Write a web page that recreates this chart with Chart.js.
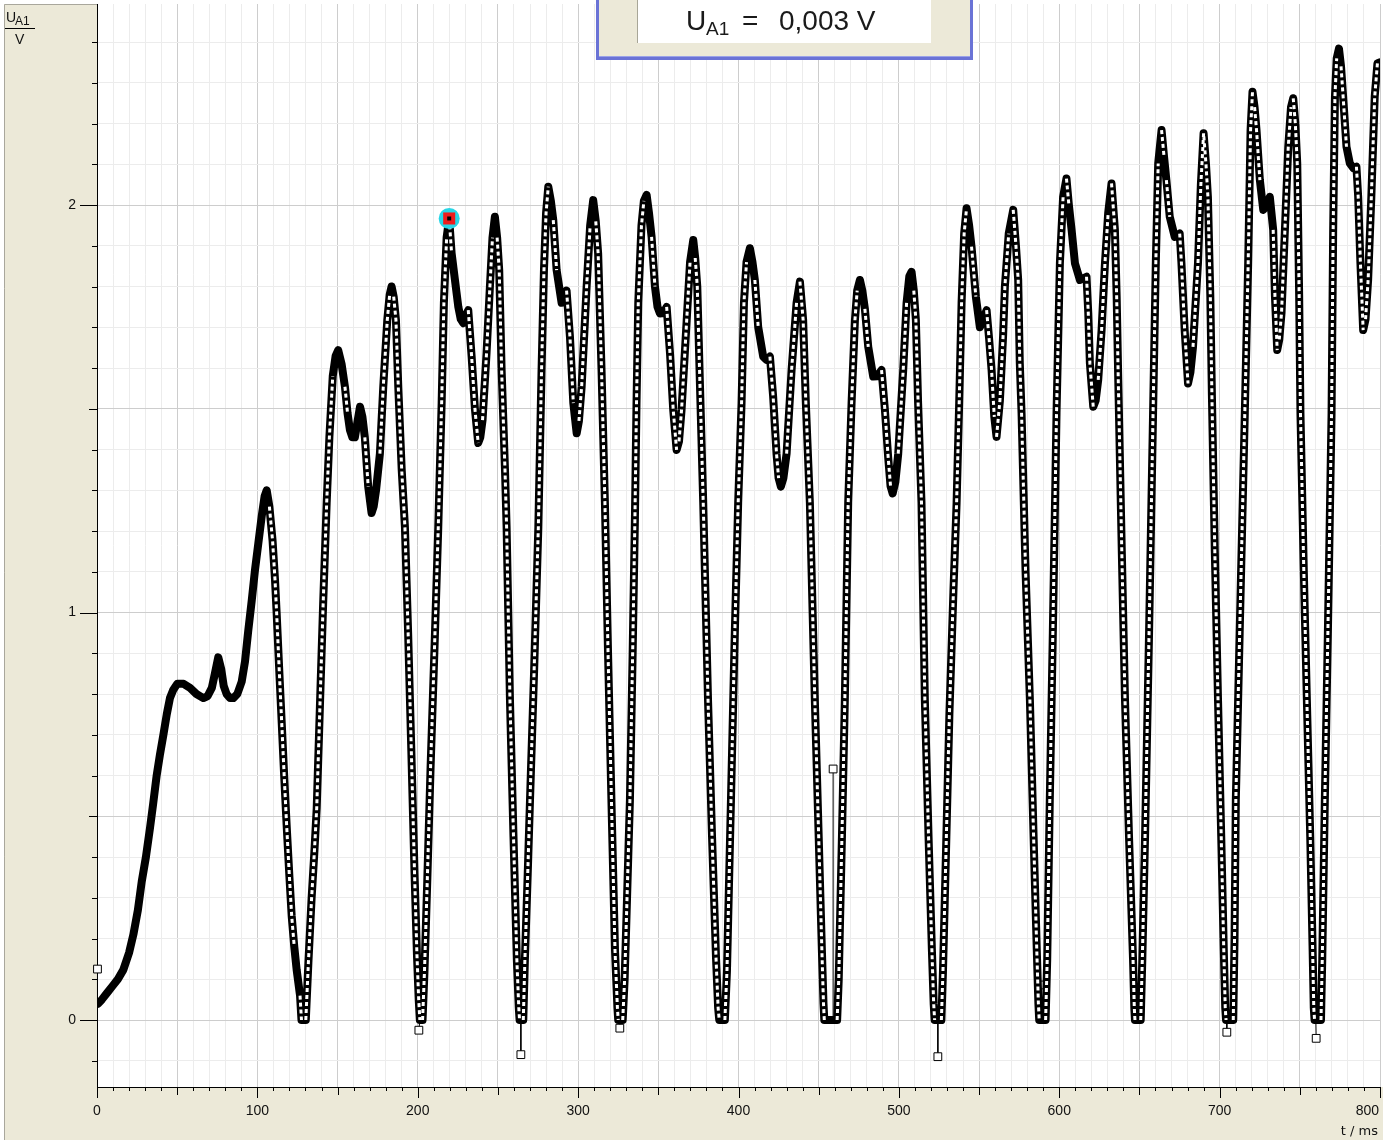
<!DOCTYPE html>
<html>
<head>
<meta charset="utf-8">
<script src="https://cdn.jsdelivr.net/npm/chart.js@4.4.1/dist/chart.umd.min.js"></script>
<style>
  html, body { margin: 0; padding: 0; background: #fff; }
  #wrap { width: 1383px; height: 1140px; }
</style>
</head>
<body>
<div id="wrap"><canvas id="chart" width="1383" height="1140"></canvas></div>
<script>
// t / ms and U_A1 / V
const times = [
  0.6, 3, 6, 10, 13, 16.4, 20, 22.7, 25.5, 27.9, 30.5, 33, 35, 37.2, 39.2, 41.4, 43.5, 45.5, 47.5, 50,
  54, 58, 62, 66.3, 69, 71.6, 73.5, 75.6, 77.5, 79, 80.8, 83, 85, 87.5, 90.2, 92.3, 94.3, 96.5, 98.5, 100.6,
  102.7, 104.5, 105.8, 107.5, 109.5, 111, 112, 113.5, 115.1, 116.7, 118.3, 120, 121.4, 123, 124.5, 126.6, 127.5, 130.2, 131.8, 133.8,
  135.5, 137, 139, 141, 143.2, 144.9, 147, 148.8, 150.4, 152.5, 154.6, 156.2, 157.7, 159.2, 160.8, 162.5, 164, 165.5, 167, 169.1,
  171.2, 172.5, 174, 176.4, 178.5, 181, 182.5, 183.7, 185, 186.4, 187.9, 190, 192, 194, 196, 198, 199.5, 200.6, 201.3, 203,
  204.2, 206, 208, 210.5, 212.8, 214.9, 216.3, 218, 219.6, 221.1, 223.2, 225.3, 226.8, 228.4, 230, 231.5, 233.6, 235.7, 237.7, 239,
  240.4, 242.9, 245, 246.6, 248.1, 249.5, 250.8, 252.3, 254.4, 255.4, 257.5, 259.7, 261.8, 263, 263.5, 265.8, 266.8, 268.5, 270, 272.5,
  275.2, 277.2, 278.7, 280, 281.4, 283, 284.5, 286.6, 289.7, 291.3, 292.8, 294.9, 297, 299.1, 300.5, 302.2, 305.3, 307.5, 309.4, 311,
  312.5, 314.6, 316.7, 318.6, 321, 323, 324.5, 325, 327.8, 329, 330.5, 332.3, 334, 335.4, 336.4, 337.5, 339.5, 341, 342.7, 344.2,
  345.8, 347.9, 349.5, 351, 353, 355.2, 357.3, 359.3, 361.4, 362.9, 364.5, 367.7, 369.8, 371.8, 373, 374.3, 376, 378, 381, 383.5,
  386, 387.3, 388, 391.5, 392.8, 395.3, 397.5, 399.8, 401.9, 403.4, 405, 407.1, 408.7, 410.2, 412.3, 415.4, 417.5, 419.6, 421.6, 423.7,
  425, 426.4, 428, 430, 433.1, 436.2, 438.3, 440.3, 442, 444.5, 447.6, 450, 452, 453, 453.5, 461.5, 462.5, 464.5, 466.3, 468.4,
  470.5, 472.6, 474, 475.7, 477.2, 478.8, 480.9, 484, 486.5, 489.2, 491.3, 493.3, 494.8, 496.1, 497.8, 499.6, 502.7, 504.8, 506.5, 507.9,
  509.3, 510.6, 512, 514.1, 516.2, 518.5, 520.6, 521.7, 522.3, 526.5, 527.5, 529.3, 531.5, 534, 536, 537.6, 539.1, 540.7, 542.2, 543.8,
  545.3, 548, 550.5, 552.5, 554.7, 556.3, 557.8, 559.5, 560.9, 563, 565, 566.1, 568.5, 571.3, 573, 574.4, 575.4, 576.5, 579, 581.7,
  584, 586, 587, 587.5, 591.5, 592.5, 594.1, 596, 598.3, 600.4, 602.4, 604.5, 606, 607.7, 609.8, 612.9, 615, 617, 618.1, 619.1,
  621.2, 622.7, 624.3, 626.4, 628.5, 630.5, 632.6, 634.7, 635.8, 636.8, 639, 641, 643.5, 646, 646.8, 647.2, 650.8, 651.8, 653.5, 656,
  658.5, 660.2, 661.7, 663.8, 665.3, 666.8, 668.9, 672, 675.1, 676.2, 678.2, 680.3, 681.8, 683.4, 686.5, 688.3, 690, 691.5, 692.7, 694.2,
  695.2, 697, 699, 701, 702.6, 703.5, 704, 708.5, 709.3, 710.1, 712.5, 715.7, 717.8, 719.3, 720.5, 721.8, 723, 725.1, 727.2, 729.5,
  731.3, 733.4, 734.5, 735.9, 737.2, 738.6, 740.7, 742.8, 744.5, 745.9, 747.2, 748.4, 749.6, 750.4, 752.5, 754.4, 756.5, 758, 758.7, 759.2,
  763.2, 764, 765.6, 767.5, 769.8, 770.8, 771.9, 773, 774.4, 775.7, 777, 779.1, 781.2, 783.5, 785.3, 786.4, 787.8, 789.5, 791, 792.6,
  794.6, 796.7, 798.4, 800
];
const volts = [
  0.04, 0.05, 0.065, 0.085, 0.10, 0.123, 0.165, 0.21, 0.27, 0.34, 0.40, 0.47, 0.53, 0.60, 0.65, 0.70, 0.75, 0.79, 0.81, 0.825,
  0.825, 0.815, 0.80, 0.79, 0.795, 0.815, 0.85, 0.89, 0.86, 0.82, 0.80, 0.79, 0.79, 0.80, 0.83, 0.88, 0.955, 1.03, 1.104, 1.17,
  1.236, 1.285, 1.30, 1.26, 1.175, 1.08, 1.0, 0.87, 0.736, 0.60, 0.474, 0.35, 0.255, 0.18, 0.123, 0.06, 0, 0, 0.14, 0.298,
  0.41, 0.52, 0.77, 1.02, 1.268, 1.43, 1.58, 1.63, 1.644, 1.61, 1.554, 1.49, 1.448, 1.43, 1.43, 1.47, 1.505, 1.48, 1.43, 1.309,
  1.244, 1.26, 1.30, 1.39, 1.554, 1.718, 1.78, 1.80, 1.775, 1.718, 1.55, 1.35, 1.21, 0.95, 0.66, 0.36, 0.16, 0.05, 0, 0,
  0.12, 0.35, 0.62, 0.92, 1.21, 1.514, 1.76, 1.92, 1.967, 1.882, 1.816, 1.75, 1.72, 1.71, 1.73, 1.742, 1.628, 1.497, 1.416, 1.43,
  1.472, 1.637, 1.80, 1.92, 1.971, 1.92, 1.84, 1.595, 1.35, 1.21, 0.785, 0.45, 0.147, 0.03, 0, 0, 0.147, 0.35, 0.54, 0.85,
  1.21, 1.595, 1.84, 1.98, 2.045, 2.01, 1.963, 1.84, 1.76, 1.77, 1.79, 1.677, 1.514, 1.44, 1.47, 1.554, 1.80, 1.95, 2.012, 1.96,
  1.88, 1.595, 1.27, 0.91, 0.5, 0.17, 0.03, 0, 0, 0.1, 0.3, 0.54, 0.9, 1.227, 1.513, 1.76, 1.95, 2.01, 2.025, 1.98,
  1.922, 1.80, 1.75, 1.734, 1.735, 1.75, 1.636, 1.497, 1.399, 1.42, 1.497, 1.718, 1.86, 1.914, 1.87, 1.80, 1.554, 1.27, 0.785, 0.45,
  0.15, 0.03, 0, 0, 0.12, 0.54, 0.92, 1.27, 1.513, 1.76, 1.86, 1.894, 1.86, 1.816, 1.70, 1.628, 1.62, 1.628, 1.53, 1.39,
  1.33, 1.309, 1.33, 1.39, 1.595, 1.76, 1.812, 1.718, 1.513, 1.27, 0.785, 0.45, 0.17, 0.04, 0, 0, 0.1, 0.45, 0.785, 1.27,
  1.513, 1.718, 1.79, 1.816, 1.79, 1.745, 1.652, 1.579, 1.58, 1.595, 1.497, 1.382, 1.31, 1.292, 1.32, 1.39, 1.595, 1.76, 1.825, 1.836,
  1.79, 1.718, 1.513, 1.27, 0.785, 0.45, 0.17, 0.04, 0, 0, 0.12, 0.4, 0.75, 1.05, 1.27, 1.513, 1.76, 1.93, 1.992, 1.95,
  1.898, 1.775, 1.70, 1.72, 1.742, 1.67, 1.595, 1.48, 1.431, 1.52, 1.68, 1.80, 1.93, 1.988, 1.9, 1.816, 1.612, 1.489, 1.1, 0.785,
  0.45, 0.17, 0.04, 0, 0, 0.15, 0.54, 0.95, 1.489, 1.857, 2.02, 2.065, 2.0, 1.939, 1.857, 1.816, 1.82, 1.824, 1.735, 1.612,
  1.505, 1.52, 1.571, 1.693, 1.857, 1.98, 2.053, 1.939, 1.775, 1.571, 1.15, 0.785, 0.45, 0.15, 0.03, 0, 0, 0.15, 0.45, 0.95,
  1.489, 1.857, 2.102, 2.184, 2.12, 2.061, 1.971, 1.922, 1.93, 1.857, 1.693, 1.562, 1.59, 1.652, 1.857, 2.05, 2.176, 2.1, 2.02, 1.775,
  1.53, 1.15, 0.785, 0.45, 0.17, 0.03, 0, 0, 0.2, 0.54, 0.95, 1.489, 1.857, 2.184, 2.278, 2.24, 2.184, 2.061, 1.988, 2.0,
  2.02, 1.939, 1.775, 1.644, 1.67, 1.735, 1.939, 2.143, 2.24, 2.262, 2.2, 2.102, 1.775, 1.489, 1.1, 0.785, 0.45, 0.17, 0.03, 0,
  0, 0.15, 0.54, 0.95, 1.489, 1.939, 2.266, 2.36, 2.384, 2.34, 2.266, 2.143, 2.102, 2.09, 2.094, 2.02, 1.857, 1.693, 1.72, 1.816,
  2.02, 2.266, 2.348, 2.35
];

// single stray samples, each joined by a thin line to the trace
const strayFromT = [0.6, 201.3, 264.3, 326, 459.5, 524.3, 590.4, 704.5, 760];
const strayFromV = [0.04, 0, 0, 0, 0, 0, 0, 0, 0];
const strayT = [0.3, 200.7, 264.3, 326, 459, 524.3, 590.4, 704.5, 760.2];
const strayV = [0.125, -0.025, -0.085, -0.02, 0.616, -0.09, 0.086, -0.03, -0.045];

// cursor position
const cursorT = [219.6];
const cursorV = [1.967];

const xLabels = ["0", "100", "200", "300", "400", "500", "600", "700", "800"];
const yLabels = ["0", "1", "2"];
const readoutValue = "0,003 V";

const trace = times.map((t, i) => ({ x: t, y: volts[i] }));
const strays = [];
strayT.forEach((t, i) => {
  strays.push({ x: strayFromT[i], y: strayFromV[i] });
  strays.push({ x: t, y: strayV[i], stray: true });
  strays.push({ x: t, y: null });
});
const cursor = cursorT.map((t, i) => ({ x: t, y: cursorV[i] }));

// where samples are far apart the squares show as a ladder
const steep = (ctx) => {
  const dx = Math.abs(ctx.p1.x - ctx.p0.x);
  const dy = Math.abs(ctx.p1.y - ctx.p0.y);
  return dy > 10 * dx;
};

const near = (v, step) => Math.abs(v / step - Math.round(v / step)) < 1e-6;

const panel = {
  id: "panel",
  beforeDraw(chart) {
    const { ctx, chartArea: a, width, height } = chart;
    ctx.save();
    ctx.fillStyle = "#ffffff";
    ctx.fillRect(0, 0, width, height);
    ctx.fillStyle = "#ece9d8";
    ctx.fillRect(4, 4, width - 4, height - 4);
    ctx.fillStyle = "#ffffff";
    ctx.fillRect(a.left, 0, width - a.left, a.bottom);
    ctx.strokeStyle = "#a9a79c";
    ctx.lineWidth = 1;
    ctx.beginPath();
    ctx.moveTo(4.5, height);
    ctx.lineTo(4.5, 4.5);
    ctx.lineTo(a.left, 4.5);
    ctx.stroke();
    ctx.restore();
  },
  afterDraw(chart) {
    const { ctx, chartArea: a } = chart;
    const xs = chart.scales.x;
    const ys = chart.scales.y;
    ctx.save();
    ctx.strokeStyle = "#000";
    ctx.lineWidth = 1;
    ctx.beginPath();
    ys.ticks.forEach((tk) => {
      const y = Math.round(ys.getPixelForValue(tk.value)) + 0.5;
      const len = near(tk.value, 1) ? 17 : near(tk.value, 0.5) ? 8 : 5;
      ctx.moveTo(a.left - len, y);
      ctx.lineTo(a.left, y);
    });
    xs.ticks.forEach((tk) => {
      const x = Math.round(xs.getPixelForValue(tk.value)) + 0.5;
      const len = near(tk.value, 100) ? 11 : near(tk.value, 50) ? 8 : 4;
      ctx.moveTo(x, a.bottom);
      ctx.lineTo(x, a.bottom + len);
    });
    ctx.stroke();

    ctx.fillStyle = "#111";
    ctx.font = "14px 'Liberation Sans', Arial, sans-serif";
    ctx.textBaseline = "middle";
    ctx.textAlign = "right";
    yLabels.forEach((lab) => {
      ctx.fillText(lab, 76, ys.getPixelForValue(Number(lab)));
    });
    xLabels.forEach((lab, i) => {
      const last = i === xLabels.length - 1;
      ctx.textAlign = last ? "right" : "center";
      ctx.fillText(lab, last ? 1379 : xs.getPixelForValue(Number(lab)), 1111);
    });

    // axis titles
    ctx.textBaseline = "alphabetic";
    ctx.textAlign = "right";
    ctx.font = "13px 'DejaVu Sans', sans-serif";
    ctx.fillText("t / ms", 1378, 1135);
    ctx.textAlign = "left";
    ctx.font = "14px 'Liberation Sans', Arial, sans-serif";
    ctx.fillText("U", 6, 22);
    ctx.font = "12px 'Liberation Sans', Arial, sans-serif";
    ctx.fillText("A1", 15, 25);
    ctx.beginPath();
    ctx.moveTo(5, 28.5);
    ctx.lineTo(35, 28.5);
    ctx.stroke();
    ctx.font = "14px 'Liberation Sans', Arial, sans-serif";
    ctx.fillText("V", 15, 44);

    // readout box
    ctx.fillStyle = "#ece9d8";
    ctx.fillRect(596, 0, 377, 58);
    ctx.fillStyle = "#6a73d6";
    ctx.fillRect(596, 0, 3, 60);
    ctx.fillRect(970, 0, 3, 60);
    ctx.fillRect(596, 57, 377, 3);
    ctx.fillStyle = "#9aa2e8";
    ctx.fillRect(599, 56, 371, 1);
    ctx.fillStyle = "#ffffff";
    ctx.fillRect(638, 0, 293, 43);
    ctx.fillStyle = "#a8a697";
    ctx.fillRect(637, 0, 1, 43);
    ctx.fillStyle = "#1a1a1a";
    ctx.font = "28px 'Liberation Sans', Arial, sans-serif";
    ctx.fillText("U", 686, 30);
    ctx.font = "19px 'Liberation Sans', Arial, sans-serif";
    ctx.fillText("A1", 706, 35);
    ctx.font = "28px 'Liberation Sans', Arial, sans-serif";
    ctx.fillText("=", 742, 30);
    ctx.fillText(readoutValue, 779, 30);
    ctx.restore();
  }
};

new Chart(document.getElementById("chart"), {
  type: "line",
  data: {
    datasets: [
      {
        data: cursor,
        order: 0,
        showLine: false,
        pointStyle: "rect",
        pointRadius: 2.8,
        pointBackgroundColor: "#000",
        pointBorderWidth: 0
      },
      {
        data: cursor,
        order: 1,
        showLine: false,
        pointStyle: "rect",
        pointRadius: 8.5,
        pointBackgroundColor: "#ee1c1c",
        pointBorderWidth: 0
      },
      {
        data: cursor,
        order: 2,
        showLine: false,
        pointStyle: "circle",
        pointRadius: 10.5,
        pointBackgroundColor: "#27d6e6",
        pointBorderWidth: 0
      },
      {
        data: trace,
        order: 3,
        borderWidth: 3,
        borderDash: [4, 3],
        borderColor: "#fff",
        pointRadius: 0,
        tension: 0,
        segment: {
          borderColor: (ctx) => (steep(ctx) ? "#ffffff" : "rgba(255,255,255,0)")
        }
      },
      {
        data: trace,
        order: 4,
        borderWidth: 8,
        borderColor: "#000",
        borderJoinStyle: "round",
        borderCapStyle: "round",
        pointRadius: 0,
        tension: 0
      },
      {
        data: strays,
        order: 5,
        borderWidth: 1,
        borderColor: "#000",
        spanGaps: false,
        clip: 8,
        pointStyle: "rect",
        pointRadius: (ctx) => (ctx.raw && ctx.raw.stray ? 5.5 : 0),
        pointBackgroundColor: "#fff",
        pointBorderColor: "#000",
        pointBorderWidth: 1
      }
    ]
  },
  options: {
    responsive: false,
    animation: false,
    devicePixelRatio: 1,
    events: [],
    layout: { autoPadding: false, padding: { top: 4, right: 3, left: 0, bottom: 0 } },
    plugins: { legend: { display: false }, tooltip: { enabled: false } },
    scales: {
      x: {
        type: "linear",
        min: 0,
        max: 800,
        ticks: { display: false, stepSize: 10, includeBounds: false },
        grid: {
          drawTicks: false,
          color: (ctx) => (ctx.tick && near(ctx.tick.value, 50) ? "#cdcdcd" : "#ececec")
        },
        border: { display: true, color: "#000", width: 1 },
        afterFit(scale) { scale.height = 53; }
      },
      y: {
        type: "linear",
        min: -0.1644,
        max: 2.4933,
        ticks: { display: false, stepSize: 0.1, includeBounds: false },
        grid: {
          drawTicks: false,
          color: (ctx) => (ctx.tick && near(ctx.tick.value, 0.5) ? "#cdcdcd" : "#ececec")
        },
        border: { display: true, color: "#000", width: 1 },
        afterFit(scale) { scale.width = 97; }
      }
    }
  },
  plugins: [panel]
});
</script>
</body>
</html>
